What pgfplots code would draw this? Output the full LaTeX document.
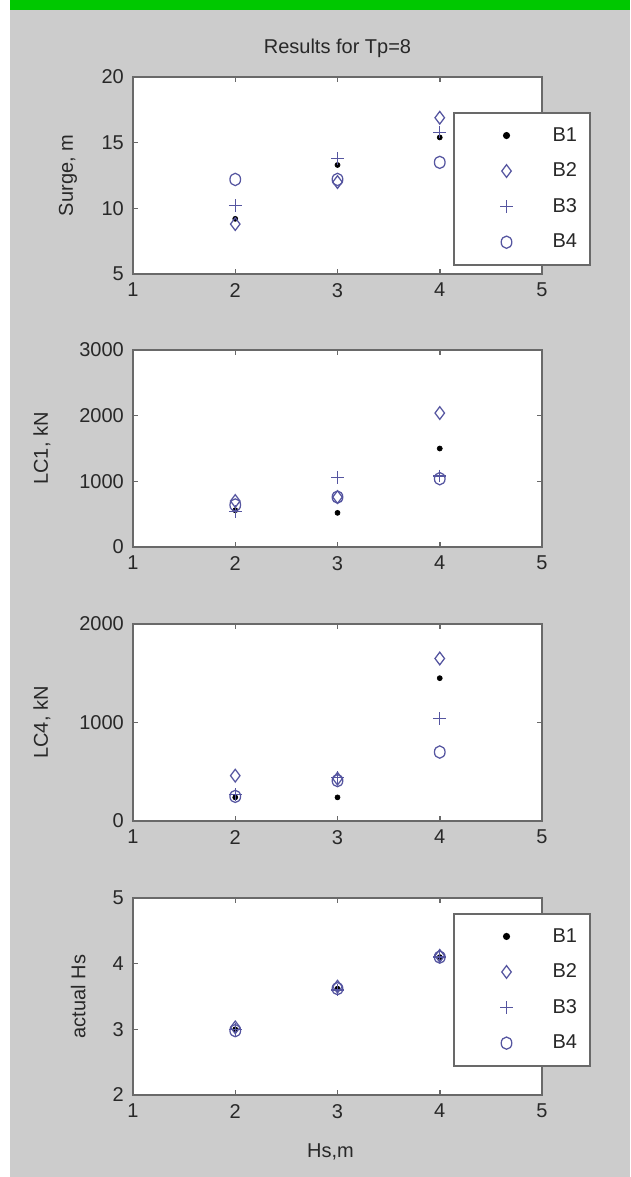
\documentclass[border=0pt]{standalone}
\usepackage{pgfplots}
\pgfplotsset{compat=1.18}
\usepackage{fontspec}
\setmainfont{Liberation Sans}
\definecolor{figgray}{RGB}{204,204,204}
\definecolor{figgreen}{RGB}{0,200,0}
\definecolor{axgray}{RGB}{105,105,105}
\definecolor{mblue}{RGB}{85,85,160}
\definecolor{txt}{RGB}{40,40,40}
\pgfplotsset{
  mylegimg/.style={legend image code/.code={\path[draw=none,fill=none] (0cm,-0.05cm) (1.8cm,0.05cm); \draw[mark repeat=2,mark phase=2,##1] plot coordinates {(0cm,0cm) (0.9cm,0cm) (1.8cm,0cm)};}},
  panel/.style={
    scale only axis, width=245.4pt, height=118.2pt,
    xmin=1, xmax=5, xtick={1,2,3,4,5},
    axis background/.style={fill=white},
    axis line style={draw=axgray, line width=1.2pt},
    tick style={draw=axgray, line width=0.9pt},
    tick align=inside, major tick length=3pt,
    xtick pos=both, ytick pos=both,
    font=\fontsize{12}{14}\selectfont,
    tick label style={font=\fontsize{12}{14}\selectfont, text=txt},
    label style={font=\fontsize{12}{14}\selectfont, text=txt},
    xticklabel style={yshift=-2pt},
    yticklabel style={xshift=-2pt},
    /pgf/number format/assume math mode=true,
    /pgf/number format/1000 sep={},
    scaled y ticks=false,
    clip=false,
    legend style={anchor=north west, draw=axgray, line width=1.2pt, fill=white,
      inner xsep=6pt, inner ysep=6.6pt, row sep=7.5pt, column sep=0pt,
      font=\fontsize{12}{14}\selectfont, text=txt, nodes={inner sep=2pt}},
    legend cell align=left,
  },
  b1/.style={only marks, mark=*, mark size=1.5pt, draw=black, fill=black, mylegimg},
  b2/.style={only marks, mark=diamond, mark size=3.8pt, draw=mblue, line width=0.75pt, mark options={fill=none}, mylegimg},
  b3/.style={only marks, mark=+, mark size=3.8pt, draw=mblue, line width=0.75pt, mylegimg},
  b4/.style={only marks, mark=o, mark size=3.2pt, draw=mblue, line width=0.75pt, mark options={yscale=1.15}, mylegimg},
}
\begin{document}
\begin{tikzpicture}
\useasboundingbox (0pt,0pt) rectangle (378pt,-706.2pt);
\fill[white] (0pt,0pt) rectangle (378pt,-706.2pt);
\fill[figgray] (6pt,-6pt) rectangle (378pt,-706.2pt);
\fill[figgreen] (6pt,0pt) rectangle (378pt,-6pt);

% Panel 1: Surge
\begin{axis}[panel, at={(79.8pt,-164.4pt)}, anchor=south west,
  ymin=5, ymax=20, ytick={5,10,15,20},
  ylabel={Surge, m},
  ylabel style={at={(axis description cs:-0.159,0.5)}, anchor=center},
  title={Results for Tp=8},
  title style={at={(axis description cs:0.5,1)}, anchor=center, yshift=11.4pt, font=\fontsize{12}{14}\selectfont, text=txt},
  legend style={at={(axis description cs:0.782,0.822)}},
]
\addplot[b1] coordinates {(2,9.2) (3,13.3) (4,15.4)};
\addplot[b2] coordinates {(2,8.8) (3,12.0) (4,16.9)};
\addplot[b3] coordinates {(2,10.2) (3,13.8) (4,15.8)};
\addplot[b4] coordinates {(2,12.2) (3,12.2) (4,13.5)};
\legend{B1,B2,B3,B4}
\end{axis}

% Panel 2: LC1
\begin{axis}[panel, at={(79.8pt,-328.2pt)}, anchor=south west,
  ymin=0, ymax=3000, ytick={0,1000,2000,3000},
  ylabel={LC1, kN},
  ylabel style={at={(axis description cs:-0.2225,0.5)}, anchor=center},
]
\addplot[b1] coordinates {(2,560) (3,520) (4,1500)};
\addplot[b2] coordinates {(2,700) (3,760) (4,2040)};
\addplot[b3] coordinates {(2,540) (3,1060) (4,1080)};
\addplot[b4] coordinates {(2,640) (3,760) (4,1040)};
\end{axis}

% Panel 3: LC4
\begin{axis}[panel, at={(79.8pt,-492.6pt)}, anchor=south west,
  ymin=0, ymax=2000, ytick={0,1000,2000},
  ylabel={LC4, kN},
  ylabel style={at={(axis description cs:-0.2225,0.5)}, anchor=center},
]
\addplot[b1] coordinates {(2,240) (3,240) (4,1450)};
\addplot[b2] coordinates {(2,460) (3,430) (4,1650)};
\addplot[b3] coordinates {(2,270) (3,440) (4,1040)};
\addplot[b4] coordinates {(2,250) (3,410) (4,700)};
\end{axis}

% Panel 4: actual Hs
\begin{axis}[panel, at={(79.8pt,-657pt)}, anchor=south west,
  ymin=2, ymax=5, ytick={2,3,4,5},
  ylabel={actual Hs},
  ylabel style={at={(axis description cs:-0.134,0.5)}, anchor=center},
  xlabel={Hs,m},
  xlabel style={at={(axis description cs:0.483,0)}, anchor=center, yshift=-34.2pt},
  legend style={at={(axis description cs:0.782,0.924)}},
]
\addplot[b1] coordinates {(2,3.0) (3,3.62) (4,4.1)};
\addplot[b2] coordinates {(2,3.03) (3,3.65) (4,4.12)};
\addplot[b3] coordinates {(2,3.0) (3,3.6) (4,4.1)};
\addplot[b4] coordinates {(2,2.98) (3,3.62) (4,4.1)};
\legend{B1,B2,B3,B4}
\end{axis}
\end{tikzpicture}
\end{document}
